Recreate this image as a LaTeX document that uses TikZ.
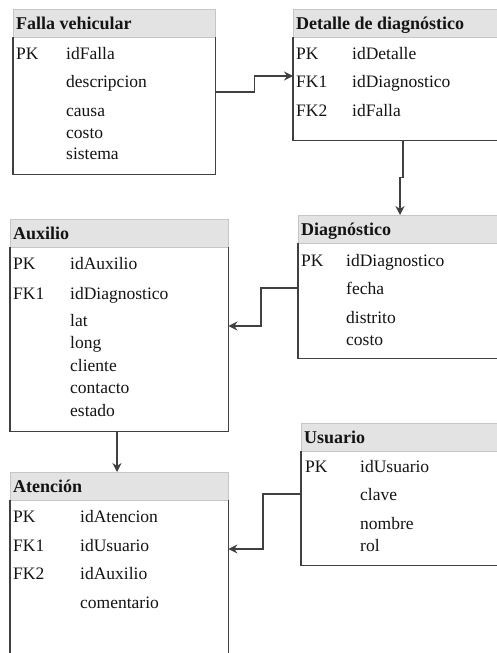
\documentclass[tikz,border=0pt]{standalone}
\usepackage{fontspec}
\setmainfont{Liberation Serif}
\usetikzlibrary{arrows.meta}

\definecolor{hdrfill}{HTML}{E3E3E3}
\definecolor{hdrline}{HTML}{C6C6C6}
\definecolor{boxline}{HTML}{404040}
\definecolor{txt}{HTML}{141414}

\tikzset{
  hdr/.style={draw=hdrline, fill=hdrfill, line width=0.8pt, anchor=north west,
    inner sep=0pt, minimum height=28pt},
  tbody/.style={anchor=north west, inner sep=0pt},
  side/.style={draw=boxline, line width=1.6pt},
  ttl/.style={font=\bfseries\fontsize{18}{20}\selectfont, text=txt, anchor=base west, inner sep=0pt},
  fld/.style={font=\fontsize{17.5}{19}\selectfont, text=txt, anchor=base west, inner sep=0pt},
  link/.style={draw=boxline, line width=1.5pt, -{Stealth[length=9pt,width=9pt]}},
}

% \dbtable{name}{left x}{top y}{width}{body height}{title}
\newcommand\dbtable[6]{%
  \node[hdr, minimum width=#4pt] (#1-h) at (#2,-#3) {};
  \node[tbody, minimum width=#4pt, minimum height=#5pt] (#1) at (#2,-#3-28) {};
  \draw[side] (#1.north west) -- (#1.south west) -- (#1.south east) -- (#1.north east);
  \node[ttl] (#1-t) at (#2+3,-#3-20) {#6};
}
% \dbfield{name}{x}{baseline y}{text}
\newcommand\dbfield[4]{\node[fld] (#1) at (#2,-#3) {#4};}

\begin{document}
\begin{tikzpicture}[x=1pt,y=1pt]
\clip (0,0) rectangle (497,-653);
\fill[white] (0,0) rectangle (497,-653);

% Falla vehicular
\dbtable{falla}{13}{9}{202}{137}{Falla vehicular}
\dbfield{falla-k1}{16}{59}{PK}
\dbfield{falla-a1}{66}{59}{idFalla}
\dbfield{falla-a2}{66}{87}{descripcion}
\dbfield{falla-a3}{66}{116}{causa}
\dbfield{falla-a4}{66}{138}{costo}
\dbfield{falla-a5}{66}{159}{sistema}

% Detalle de diagnóstico
\dbtable{detalle}{293}{9}{230}{103}{Detalle de diagnóstico}
\dbfield{detalle-k1}{296}{59}{PK}
\dbfield{detalle-k2}{296}{87}{FK1}
\dbfield{detalle-k3}{296}{116}{FK2}
\dbfield{detalle-a1}{352}{59}{idDetalle}
\dbfield{detalle-a2}{352}{87}{idDiagnostico}
\dbfield{detalle-a3}{352}{116}{idFalla}

% Diagnóstico
\dbtable{diag}{298}{215}{230}{115}{Diagnóstico}
\dbfield{diag-k1}{301}{266}{PK}
\dbfield{diag-a1}{346}{266}{idDiagnostico}
\dbfield{diag-a2}{346}{294}{fecha}
\dbfield{diag-a3}{346}{323}{distrito}
\dbfield{diag-a4}{346}{345}{costo}

% Auxilio
\dbtable{aux}{10}{219}{218}{184}{Auxilio}
\dbfield{aux-k1}{13}{269}{PK}
\dbfield{aux-k2}{13}{299}{FK1}
\dbfield{aux-a1}{70}{269}{idAuxilio}
\dbfield{aux-a2}{70}{299}{idDiagnostico}
\dbfield{aux-a3}{70}{326}{lat}
\dbfield{aux-a4}{70}{348}{long}
\dbfield{aux-a5}{70}{371}{cliente}
\dbfield{aux-a6}{70}{393}{contacto}
\dbfield{aux-a7}{70}{416}{estado}

% Atención
\dbtable{aten}{10}{472}{218}{200}{Atención}
\dbfield{aten-k1}{13}{522}{PK}
\dbfield{aten-k2}{13}{551}{FK1}
\dbfield{aten-k3}{13}{579}{FK2}
\dbfield{aten-a1}{80}{522}{idAtencion}
\dbfield{aten-a2}{80}{551}{idUsuario}
\dbfield{aten-a3}{80}{579}{idAuxilio}
\dbfield{aten-a4}{80}{608}{comentario}

% Usuario
\dbtable{usr}{301}{423}{230}{114}{Usuario}
\dbfield{usr-k1}{305}{472}{PK}
\dbfield{usr-a1}{360}{472}{idUsuario}
\dbfield{usr-a2}{360}{500}{clave}
\dbfield{usr-a3}{360}{529}{nombre}
\dbfield{usr-a4}{360}{551}{rol}

% Relationships
\draw[link] ([yshift=-55pt]falla.north east) -| ++(39,0) |- ([yshift=-39pt]detalle.north west);
\draw[link] ([xshift=110pt]detalle.south west) -- ++(0,-37) -- ++(-3,0) -- ([xshift=102pt]diag-h.north west);
\draw[link] ([yshift=-45pt]diag.north west) -- ++(-37,0) |- ([yshift=-79pt]aux.north east);
\draw[link] ([xshift=107pt]aux.south west) -- ([xshift=107pt]aten-h.north west);
\draw[link] ([yshift=-43pt]usr.north west) -- ++(-38,0) |- ([yshift=-49pt]aten.north east);
\end{tikzpicture}
\end{document}
